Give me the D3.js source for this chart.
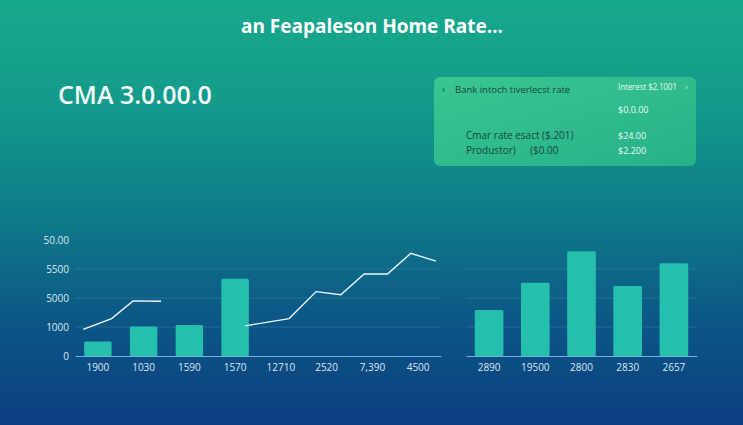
<!DOCTYPE html>
<html>
<head>
<meta charset="utf-8">
<script src="https://cdn.jsdelivr.net/npm/d3@7/dist/d3.min.js"></script>
<style>
html,body{margin:0;padding:0;background:#0e6f8a;}
svg{display:block;font-family:"Open Sans","Noto Sans",sans-serif;}
</style>
</head>
<body>
<svg id="chart" width="743" height="425"></svg>
<script>
// ---- data ----
const titleText = "an Feapaleson Home Rate...";
const headline = "CMA 3.0.00.0";
const yTickLabels = ["0", "1000", "5000", "5500", "50.00"];
const leftCategories = ["1900", "1030", "1590", "1570", "12710", "2520", "7,390", "4500"];
const leftBarValues = [0.5, 1.02, 1.07, 2.66];
const lineSeg1X = [0.18, 0.80, 1.27, 1.88];
const lineSeg1Y = [0.92, 1.29, 1.90, 1.89];
const lineSeg2X = [3.72, 4.68, 5.27, 5.81, 6.32, 6.83, 7.34, 7.89];
const lineSeg2Y = [1.04, 1.29, 2.22, 2.11, 2.83, 2.83, 3.54, 3.27];
const rightCategories = ["2890", "19500", "2800", "2830", "2657"];
const rightBarValues = [1.59, 2.53, 3.61, 2.41, 3.20];
const legendRows = [
  {left: "Bank intoch tiverlecst rate", mid: "", right: "Interest $2.1001"},
  {left: "", mid: "", right: "$0.0.00"},
  {left: "Cmar rate esact ($.201)", mid: "", right: "$24.00"},
  {left: "Produstor)", mid: "($0.00", right: "$2.200"}
];

// ---- drawing ----
const svg = d3.select("#chart");
const W = 743, H = 425;
const defs = svg.append("defs");
const bg = defs.append("linearGradient").attr("id","bg").attr("x1",0).attr("y1",0).attr("x2",0).attr("y2",1);
[[0,"#18a98b"],[0.25,"#139a8b"],[0.5,"#0e7c8a"],[0.75,"#0c5786"],[1,"#0c3e82"]].forEach(([o,c])=>bg.append("stop").attr("offset",o).attr("stop-color",c));
svg.append("rect").attr("width",W).attr("height",H).attr("fill","url(#bg)");

const lg = defs.append("linearGradient").attr("id","lg").attr("x1",0).attr("y1",0).attr("x2",1).attr("y2",1);
lg.append("stop").attr("offset",0).attr("stop-color","#3cc891");
lg.append("stop").attr("offset",1).attr("stop-color","#27b389");

// title
svg.append("text").attr("x",372).attr("y",33).attr("text-anchor","middle")
  .attr("fill","#ffffff").attr("font-size",19).attr("font-weight",700).text(titleText);
svg.append("text").attr("x",58).attr("y",104).attr("fill","#f2fbf8")
  .attr("font-size",25).attr("font-weight",600).text(headline);

// legend box
const lgG = svg.append("g");
lgG.append("rect").attr("x",434).attr("y",77).attr("width",262).attr("height",89).attr("rx",6)
  .attr("fill","url(#lg)").attr("opacity",0.95);
lgG.append("text").attr("x",442).attr("y",93).attr("fill","#1f4f4a").attr("font-size",10).text("›");
const rowY = [93, 113, 139, 154];
const rowLeftX = [455, 455, 466, 466];
legendRows.forEach((r,i)=>{
  if (r.left) lgG.append("text").attr("x",rowLeftX[i]).attr("y",rowY[i]).attr("fill","#1a4642").attr("font-size",i===0?9.5:10).text(r.left);
  if (r.mid) lgG.append("text").attr("x",530).attr("y",rowY[i]).attr("fill","#1a4642").attr("font-size",10).text(r.mid);
  const t = lgG.append("text").attr("x",618).attr("y",i===0?rowY[i]-3:rowY[i]).attr("fill","#eafaf4").attr("font-size",9).text(r.right);
  if (i===0) t.attr("textLength",59).attr("lengthAdjust","spacingAndGlyphs");
});
lgG.append("text").attr("x",685).attr("y",90).attr("fill","#bfeedd").attr("font-size",9).text("›");

// scales
const y = d3.scaleLinear().domain([0,4]).range([356,240]);
const xL = d3.scaleBand().domain(leftCategories).range([75,441]).paddingInner(0.4).paddingOuter(0.2);
const xLc = d3.scaleLinear().domain([0,8]).range([75,441]);
const xR = d3.scaleBand().domain(rightCategories).range([466,697]).paddingInner(0.38).paddingOuter(0.19);

const gridCol = "rgba(150,210,230,0.16)";
[1,2,3].forEach(v=>{
  svg.append("line").attr("x1",75).attr("x2",441).attr("y1",y(v)).attr("y2",y(v)).attr("stroke",gridCol).attr("stroke-width",1);
  svg.append("line").attr("x1",466).attr("x2",697).attr("y1",y(v)).attr("y2",y(v)).attr("stroke",gridCol).attr("stroke-width",1);
});

// y axis labels (left)
const yAxis = d3.axisLeft(y).tickValues([0,1,2,3,4]).tickFormat((d,i)=>yTickLabels[i]).tickSize(0).tickPadding(0);
const gy = svg.append("g").attr("transform","translate(69,0)").call(yAxis);
gy.select(".domain").remove();
gy.selectAll("text").attr("fill","#d7e8f0").attr("font-size",10).attr("font-family","'Open Sans',sans-serif");

// bars
const barCol = "#25c0ad";
svg.append("g").selectAll("rect").data(leftBarValues).join("rect")
  .attr("x",(d,i)=>xL(leftCategories[i])).attr("width",xL.bandwidth())
  .attr("y",d=>y(d)).attr("height",d=>y(0)-y(d)).attr("rx",1.5).attr("fill",barCol);
svg.append("g").selectAll("rect").data(rightBarValues).join("rect")
  .attr("x",(d,i)=>xR(rightCategories[i])).attr("width",xR.bandwidth())
  .attr("y",d=>y(d)).attr("height",d=>y(0)-y(d)).attr("rx",1.5).attr("fill",barCol);

// x axes
[[xL],[xR]].forEach(([sc])=>{
  const g = svg.append("g").attr("transform",`translate(0,${y(0)})`).call(d3.axisBottom(sc).tickSize(0).tickPadding(8));
  g.select(".domain").attr("stroke","#6fb3d6").attr("stroke-width",1);
  g.selectAll("text").attr("fill","#d7e8f0").attr("font-size",10).attr("font-family","'Open Sans',sans-serif");
});

// lines
const line = d3.line().x(d=>xLc(d[0])).y(d=>y(d[1]));
[[lineSeg1X,lineSeg1Y],[lineSeg2X,lineSeg2Y]].forEach(([xs,ys])=>{
  svg.append("path").datum(xs.map((v,i)=>[v,ys[i]])).attr("d",line)
    .attr("fill","none").attr("stroke","#eef6f6").attr("stroke-width",1.4);
});
</script>
</body>
</html>
